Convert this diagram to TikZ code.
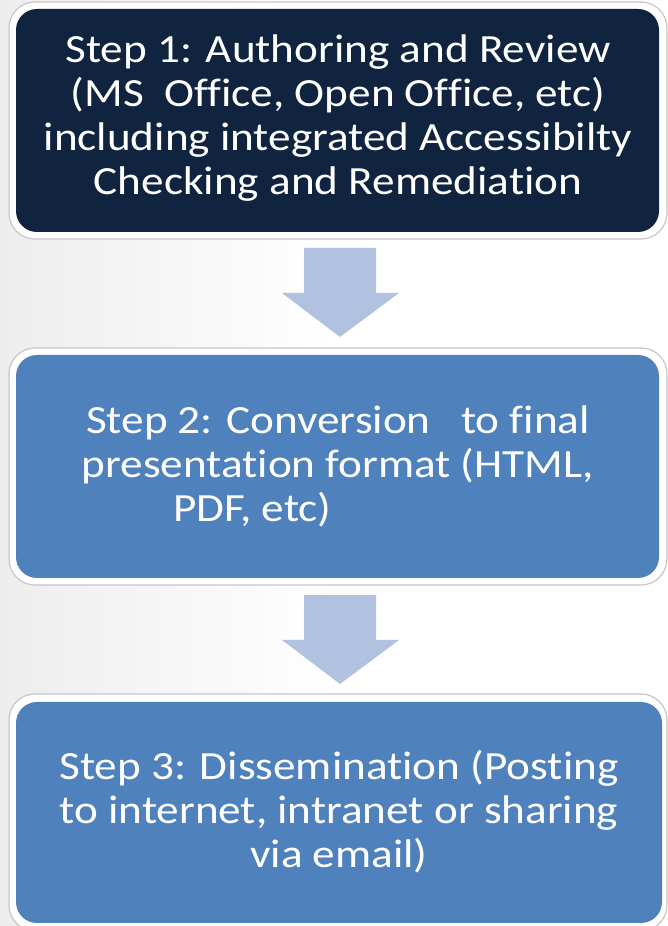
\documentclass[tikz,border=0pt]{standalone}
\usepackage{fontspec}
\setmainfont[FakeStretch=1.13,RawFeature=-liga]{Carlito}
\usetikzlibrary{calc}
\definecolor{navy}{HTML}{10233F}
\definecolor{stepblue}{HTML}{4F81BD}
\definecolor{arrowblue}{HTML}{B0C2DF}
\tikzset{
  frame/.style={fill=white, draw=black!22, line width=1.2pt, rounded corners=26pt},
  panel/.style={rounded corners=21pt, draw=none},
  steptext/.style={text=white, align=center, font=\fontsize{40}{44}\selectfont},
  blockarrow/.style={fill=arrowblue, draw=none}
}
\begin{document}
\begin{tikzpicture}[x=1pt,y=1pt]
\useasboundingbox (0,0) rectangle (668,926);
\shade[left color=black!7, right color=white] (0,0) rectangle (334,926);
% box 1
\draw[frame] (9,926-2) rectangle (667,926-239);
\fill[panel, navy] (16,926-9) rectangle (659,926-232);
\node[steptext] (s1) at (338,926-118) {Step 1: Authoring and Review\\(MS\ \ Office, Open Office, etc)\\including integrated Accessibilty\\Checking and Remediation};
% box 2
\draw[frame] (9,926-348) rectangle (667,926-585);
\fill[panel, stepblue] (16,926-355) rectangle (659,926-578);
\node[steptext] (s2) at (338,926-466) {Step 2: Conversion\ \ \ to final\\presentation format (HTML,\\\makebox[460pt][l]{\hspace*{65pt}PDF, etc)}};
% box 3
\draw[frame] (9,926-694) rectangle (667,926-931);
\fill[panel, stepblue] (16,926-702) rectangle (662,926-923);
\node[steptext] (s3) at (339,926-812) {Step 3: Dissemination (Posting\\to internet, intranet or sharing\\via email)};
% arrows
\coordinate (a1) at (340,926-248);
\coordinate (a2) at (340,926-595);
\foreach \a in {a1,a2}{
  \fill[blockarrow] ($(\a)+(-36,0)$) -- ($(\a)+(36,0)$) -- ($(\a)+(36,-45)$) -- ($(\a)+(59,-45)$)
    -- ($(\a)+(0,-89)$) -- ($(\a)+(-58,-45)$) -- ($(\a)+(-36,-45)$) -- cycle;
}
\end{tikzpicture}
\end{document}
